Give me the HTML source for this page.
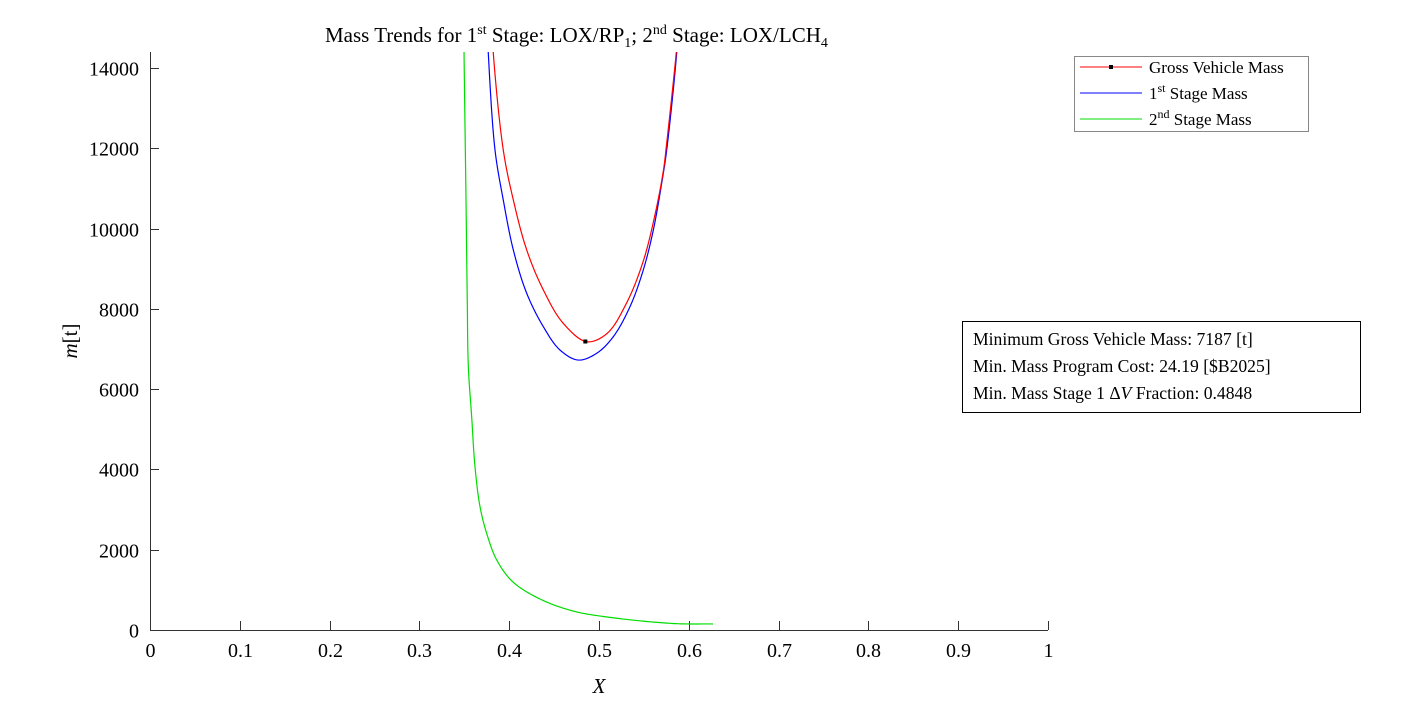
<!DOCTYPE html>
<html><head><meta charset="utf-8"><style>
body{margin:0;background:#fff;}
svg text{font-family:"Liberation Serif",serif;fill:#000;}
</style></head><body>
<svg id="chart" width="1418" height="709">
<defs><clipPath id="clip"><rect x="150" y="52" width="898" height="578"/></clipPath></defs>
<text x="325" y="42" font-size="21">Mass Trends for 1<tspan font-size="14" dy="-8">st</tspan><tspan dy="8"> Stage: LOX/RP</tspan><tspan font-size="14" dy="5">1</tspan><tspan dy="-5">; 2</tspan><tspan font-size="14" dy="-8">nd</tspan><tspan dy="8"> Stage: LOX/LCH</tspan><tspan font-size="14" dy="5">4</tspan></text>
<g id="axes"></g>
<g id="series" clip-path="url(#clip)"></g>
<g>
<rect x="1074.5" y="56.5" width="234" height="75" fill="#fff" stroke="#888"/>
<g><line x1="1080" y1="67" x2="1142" y2="67" stroke="#f00"/><rect x="1109" y="65" width="4" height="4" fill="#000"/><text x="1149" y="73" font-size="17">Gross Vehicle Mass</text></g>
<g><line x1="1080" y1="93" x2="1142" y2="93" stroke="#00f"/><text x="1149" y="99" font-size="17">1<tspan font-size="12" dy="-7">st</tspan><tspan dy="7"> Stage Mass</tspan></text></g>
<g><line x1="1080" y1="119" x2="1142" y2="119" stroke="#0d0"/><text x="1149" y="125" font-size="17">2<tspan font-size="12" dy="-7">nd</tspan><tspan dy="7"> Stage Mass</tspan></text></g>
</g>
<g>
<rect x="962.5" y="321.5" width="398" height="91" fill="#fff" stroke="#000"/>
<text x="973" y="345" font-size="17.6">Minimum Gross Vehicle Mass: 7187 [t]</text>
<text x="973" y="372" font-size="17.6">Min. Mass Program Cost: 24.19 [$B2025]</text>
<text x="973" y="399" font-size="17.6">Min. Mass Stage 1 Δ<tspan font-style="italic">V</tspan> Fraction: 0.4848</text>
</g>
</svg>
<script>
const xTicks=[0,0.1,0.2,0.3,0.4,0.5,0.6,0.7,0.8,0.9,1];
const yTicks=[0,2000,4000,6000,8000,10000,12000,14000];
const grossX=[0.3812,0.3823,0.3934,0.4046,0.4195,0.4380,0.4602,0.4863,0.5086,0.5308,0.5493,0.5624,0.5716,0.5754,0.5865,0.588];
const grossY=[15000,14374,11957,10712,9467,8471,7640,7182,7380,8150,9190,10350,11430,12130,14500,15000];
const stage1X=[0.3755,0.3767,0.3842,0.3934,0.4046,0.4195,0.4380,0.4566,0.4769,0.4974,0.5159,0.5345,0.5493,0.5605,0.5698,0.5754,0.5865,0.588];
const stage1Y=[15000,14374,11957,10712,9467,8388,7556,6974,6725,6893,7306,8054,8968,9964,11128,11957,14374,15000];
const stage2X=[0.3495,0.3497,0.3519,0.3533,0.3545,0.3582,0.3619,0.3675,0.3749,0.3861,0.4042,0.4343,0.4710,0.5089,0.5824,0.6269];
const stage2Y=[15000,14399,10712,8221,6559,5314,4068,3072,2409,1744,1196,772,473,324,162,150];
const minPoint=[0.4848,7187];
const NS="http://www.w3.org/2000/svg";
const sx=v=>150+898*v, sy=v=>630-v*562/14000;
function mk(tag,attrs,parent){const e=document.createElementNS(NS,tag);for(const k in attrs)e.setAttribute(k,attrs[k]);parent.appendChild(e);return e;}
const axes=document.getElementById('axes');
const xa=mk('line',{x1:150,y1:630.5,x2:1048,y2:630.5,stroke:'#333'},axes);


const ya=mk('line',{x1:150.5,y1:52,x2:150.5,y2:630,stroke:'#333'},axes);


xTicks.forEach(t=>{const x=Math.round(sx(t))+0.5;mk('line',{x1:x,y1:630,x2:x,y2:621,stroke:'#333'},axes);
const tx=mk('text',{x:x,y:657,'font-size':20,'text-anchor':'middle'},axes);tx.textContent=String(t);

});
yTicks.forEach(t=>{const y=Math.round(sy(t))+0.5;mk('line',{x1:150,y1:y,x2:159,y2:y,stroke:'#333'},axes);
const tx=mk('text',{x:139,y:y+7,'font-size':20,'text-anchor':'end'},axes);tx.textContent=String(t);

});
const xl=mk('text',{x:599,y:693,'font-size':21,'font-style':'italic','text-anchor':'middle'},axes);xl.textContent='X';


const yl=mk('text',{x:0,y:0,'font-size':21,'text-anchor':'middle',transform:'translate(77,341) rotate(-90)'},axes);
yl.innerHTML='<tspan font-style="italic">m</tspan>[t]';


function path(xs,ys){
  const P=xs.map((x,i)=>[sx(x),sy(ys[i])]);
  const pts=[P[0]];
  const d=(a,b)=>Math.max(1e-4,Math.pow(Math.hypot(b[0]-a[0],b[1]-a[1]),0.5));
  for(let i=0;i<P.length-1;i++){
    const p0=i>0?P[i-1]:[2*P[0][0]-P[1][0],2*P[0][1]-P[1][1]];
    const p1=P[i],p2=P[i+1];
    const p3=i+2<P.length?P[i+2]:[2*p2[0]-p1[0],2*p2[1]-p1[1]];
    const t0=0,t1=t0+d(p0,p1),t2=t1+d(p1,p2),t3=t2+d(p2,p3);
    for(let s=1;s<=20;s++){
      const t=t1+(t2-t1)*s/20;
      const L=(a,b,ta,tb)=>[(tb-t)/(tb-ta)*a[0]+(t-ta)/(tb-ta)*b[0],(tb-t)/(tb-ta)*a[1]+(t-ta)/(tb-ta)*b[1]];
      const A1=L(p0,p1,t0,t1),A2=L(p1,p2,t1,t2),A3=L(p2,p3,t2,t3);
      const B1=L(A1,A2,t0,t2),B2=L(A2,A3,t1,t3);
      pts.push(L(B1,B2,t1,t2));
    }
  }
  return pts.map((p,i)=>(i?'L':'M')+p[0].toFixed(2)+','+p[1].toFixed(2)).join(' ');
}
const ser=document.getElementById('series');
const g2=mk('path',{d:path(stage2X,stage2Y),fill:'none',stroke:'#0d0','stroke-width':1.2,'stroke-linejoin':'round'},ser);


const g1=mk('path',{d:path(stage1X,stage1Y),fill:'none',stroke:'#00f','stroke-width':1.2,'stroke-linejoin':'round'},ser);


const gg=mk('path',{d:path(grossX,grossY),fill:'none',stroke:'#f00','stroke-width':1.2,'stroke-linejoin':'round'},ser);


const mp=mk('rect',{x:sx(minPoint[0])-2,y:sy(minPoint[1])-2,width:4,height:4,fill:'#000'},ser);


</script>
</body></html>
